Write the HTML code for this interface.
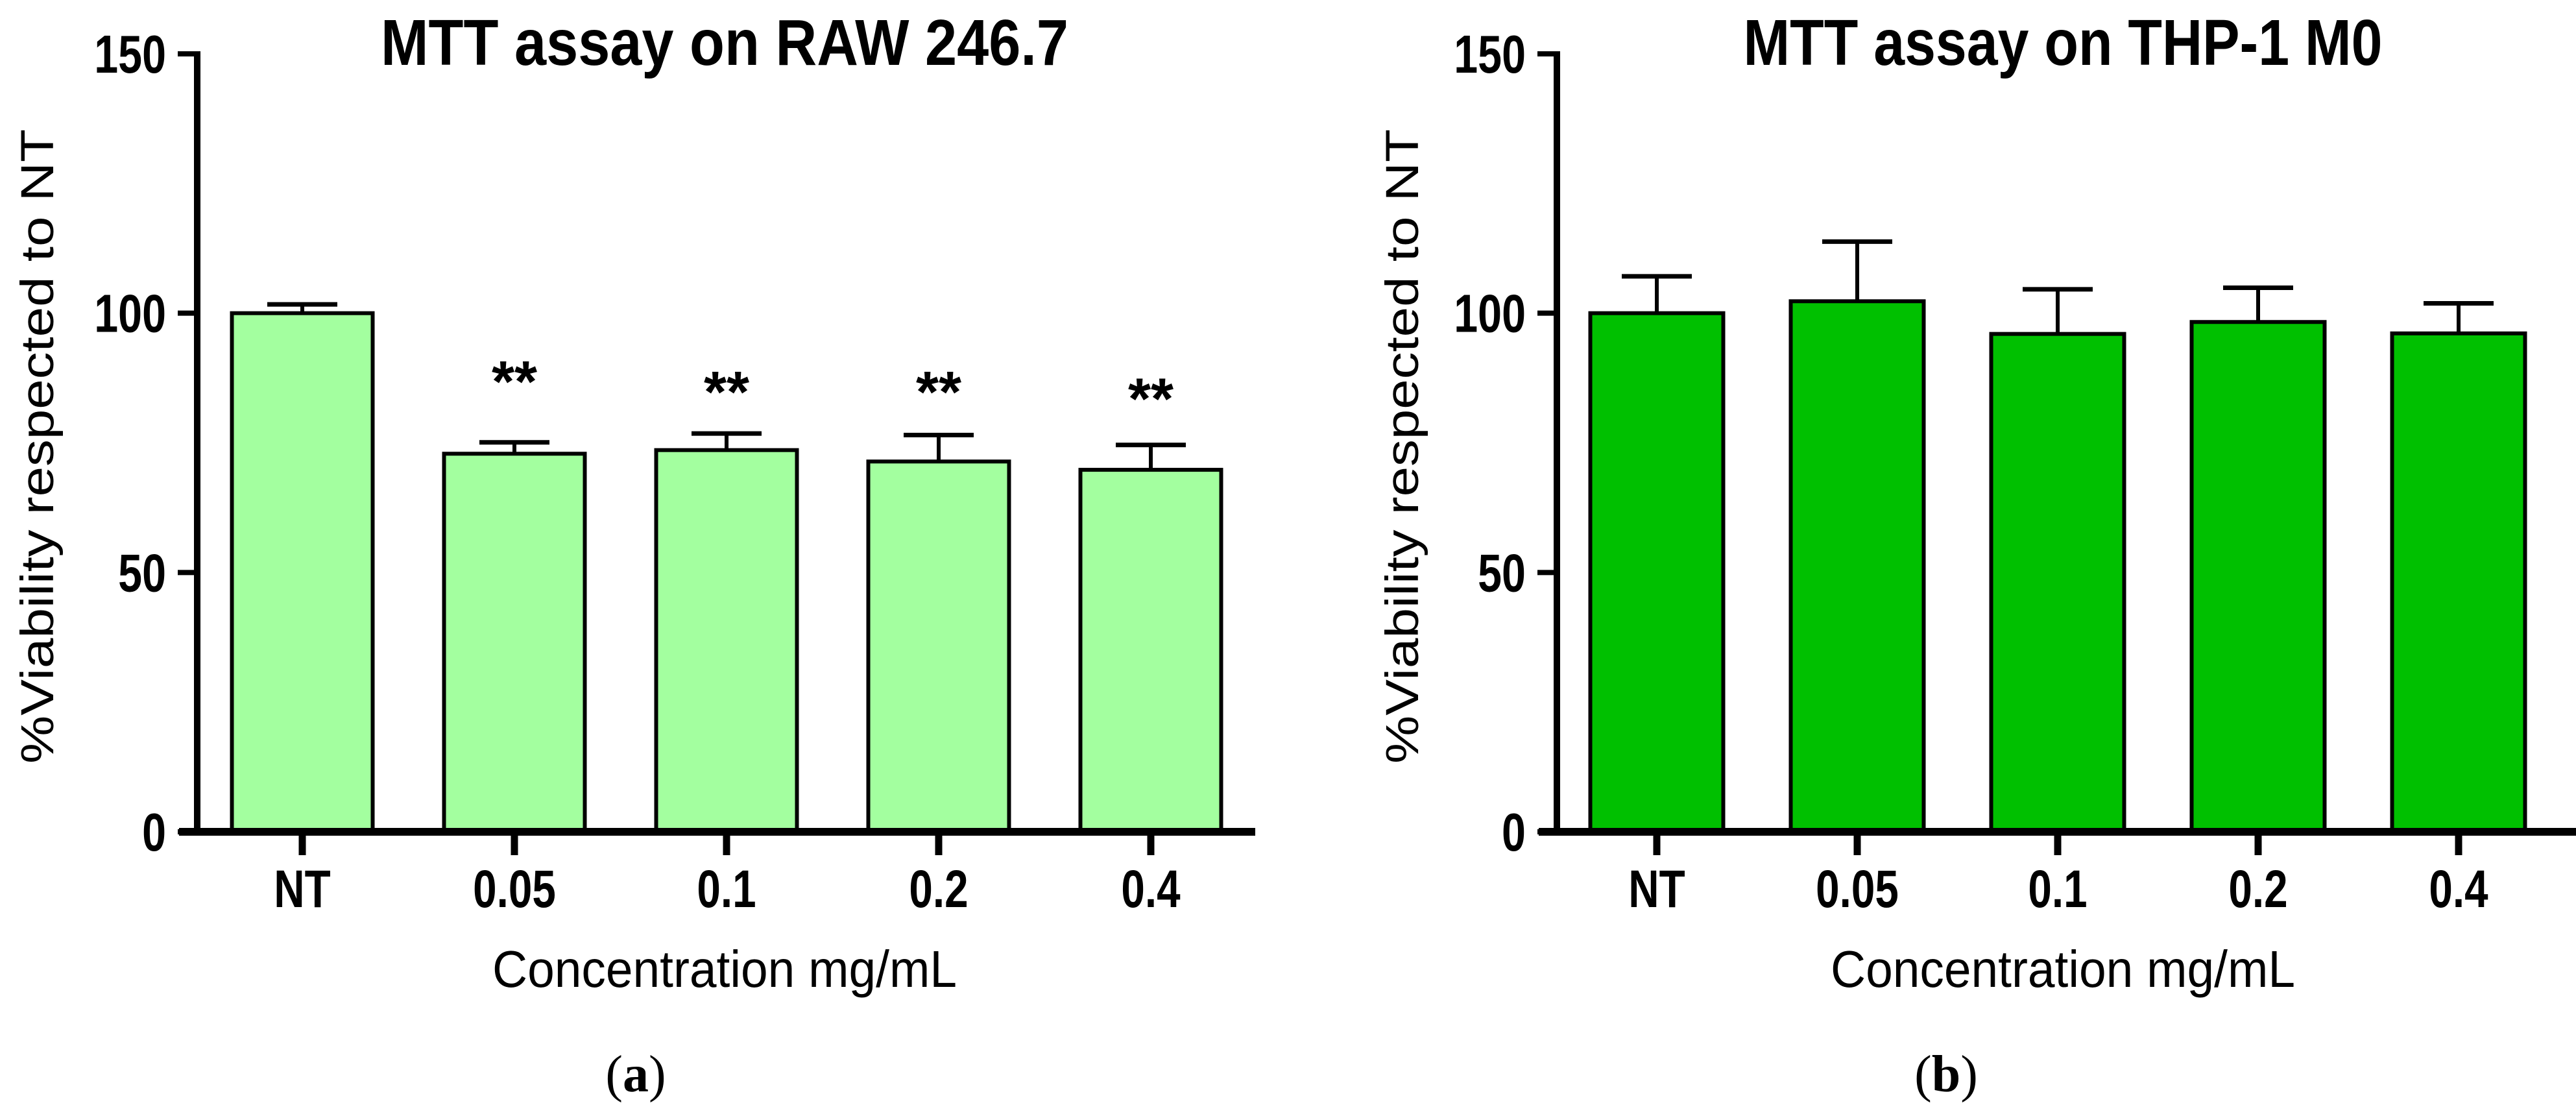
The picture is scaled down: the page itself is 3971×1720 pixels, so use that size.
<!DOCTYPE html>
<html><head><meta charset="utf-8"><style>
html,body{margin:0;padding:0;background:#fff;}
svg{display:block;}
text{font-family:"Liberation Sans",sans-serif;}
text.serif{font-family:"Liberation Serif",serif;}
</style></head><body>
<svg id="chart" width="3971" height="1720" viewBox="0 0 3971 1720" xmlns="http://www.w3.org/2000/svg">
<g id="pa"></g>
<g id="pb"></g>
</svg>
<script>
const categories = ["NT","0.05","0.1","0.2","0.4"];
const yTicks = [0,50,100,150];
const rawValues = [100,72.9,73.6,71.4,69.8];
const rawErrTop = [101.7,75.1,76.8,76.5,74.6];
const rawStars = ["","**","**","**","**"];
const rawStarPos = [0,90.7,88.7,88.7,87.4];
const thpValues = [100,102.3,96.0,98.3,96.1];
const thpErrTop = [107.1,113.8,104.6,104.9,101.9];

const NS="http://www.w3.org/2000/svg";
function mk(parent,tag,attrs,txt){const e=document.createElementNS(NS,tag);for(const k in attrs)e.setAttribute(k,attrs[k]);if(txt!==undefined)e.textContent=txt;parent.appendChild(e);return e;}

function panel(g,cfg){
  const y0=1282,y150=83;
  const ys=v=>y0-(v/150)*(y0-y150);
  const xs=i=>cfg.x0+cfg.step*i;
  cfg.values.forEach((v,i)=>{
    const cx=xs(i);
    const stem=mk(g,'line',{x1:cx,x2:cx,y1:ys(v),y2:ys(cfg.err[i]),stroke:'#000','stroke-width':6});
    
    
    const cap=mk(g,'line',{x1:cx-54,x2:cx+54,y1:ys(cfg.err[i]),y2:ys(cfg.err[i]),stroke:'#000','stroke-width':7});
    
    
    const r=mk(g,'rect',{x:cx-cfg.bw/2,y:ys(v),width:cfg.bw,height:y0-ys(v),fill:cfg.color,stroke:'#000','stroke-width':6});
    
    
    if(cfg.stars&&cfg.stars[i]){
      const s=mk(g,'text',{x:cx,y:ys(cfg.starPos[i])+62,'font-size':90,'font-weight':'bold','text-anchor':'middle'},cfg.stars[i]);
      
      
    }
    const t=mk(g,'line',{x1:cx,x2:cx,y1:y0,y2:1318,stroke:'#000','stroke-width':11});
    
    
    const l=mk(g,'text',{x:cx,y:1398,'font-size':82,'font-weight':'bold','text-anchor':'middle',transform:`translate(${cx} 0) scale(0.8 1) translate(${-cx} 0)`},categories[i]);
    
    
  });
  const ya=mk(g,'line',{x1:cfg.ax,x2:cfg.ax,y1:y150-4,y2:y0+6,stroke:'#000','stroke-width':10});
  
  
  const xa=mk(g,'line',{x1:cfg.ax-28,x2:cfg.xend,y1:y0,y2:y0,stroke:'#000','stroke-width':12});
  
  
  yTicks.forEach(v=>{
    const t=mk(g,'line',{x1:cfg.ax-30,x2:cfg.ax,y1:ys(v),y2:ys(v),stroke:'#000','stroke-width':8});
    
    
    const lx=cfg.ax-48;
    const l=mk(g,'text',{x:lx,y:ys(v)+29,'font-size':83,'font-weight':'bold','text-anchor':'end',transform:`translate(${lx} 0) scale(0.8 1) translate(${-lx} 0)`},String(v));
    
    
  });
  const ti=mk(g,'text',{x:cfg.tc-cfg.tw/2,y:100,'font-size':100,'font-weight':'bold',textLength:cfg.tw,lengthAdjust:'spacingAndGlyphs'},cfg.title);
  
  
  const yl=mk(g,'text',{x:0,y:0,'font-size':71,'text-anchor':'middle',textLength:978,lengthAdjust:'spacingAndGlyphs',transform:`translate(${cfg.ylx} 688) rotate(-90)`},'%Viability respected to NT');
  
  
  const xl=mk(g,'text',{x:cfg.tc-358,y:1521,'font-size':80,textLength:716,lengthAdjust:'spacingAndGlyphs'},'Concentration mg/mL');
  
  
  const pl=mk(g,'text',{x:cfg.lc,y:1682,'font-size':80,'text-anchor':'middle','class':'serif'});
  
  
  mk(pl,'tspan',{},'(');mk(pl,'tspan',{'font-weight':'bold'},cfg.letter);mk(pl,'tspan',{},')');
}
panel(document.getElementById('pa'),{values:rawValues,err:rawErrTop,stars:rawStars,starPos:rawStarPos,color:'#a3ff9f',x0:466,step:327,bw:217,ax:304,xend:1935,title:'MTT assay on RAW 246.7',tc:1117,tw:1060,ylx:82,lc:980,letter:'a'});
panel(document.getElementById('pb'),{values:thpValues,err:thpErrTop,color:'#00c000',x0:2554,step:309,bw:205,ax:2400,xend:3971,title:'MTT assay on THP-1 M0',tc:3180,tw:985,ylx:2186,lc:3000,letter:'b'});
</script>
</body></html>
